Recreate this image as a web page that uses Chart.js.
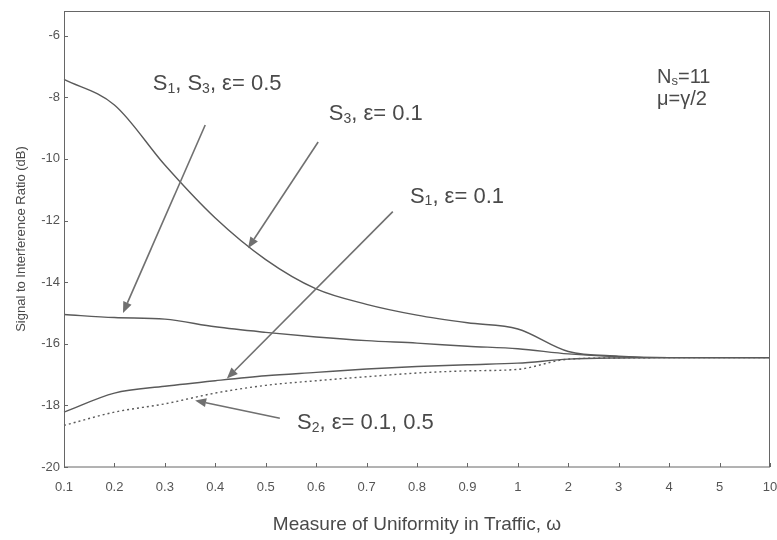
<!DOCTYPE html>
<html>
<head>
<meta charset="utf-8">
<script src="https://cdn.jsdelivr.net/npm/chart.js@4.4.1/dist/chart.umd.min.js"></script>
<style>
  html, body { margin: 0; padding: 0; background: #fff; }
</style>
</head>
<body>
<canvas id="sirChart" width="777" height="540"></canvas>
<script>
// omega categories (x axis is evenly spaced, not to scale)
const omega = ['0.1', '0.2', '0.3', '0.4', '0.5', '0.6', '0.7', '0.8', '0.9', '1', '2', '3', '4', '5', '10'];
const yTicks = [-20, -18, -16, -14, -12, -10, -8, -6];

// SIR (dB)
const s3Eps01   = [-7.42, -8.25, -10.2, -11.92, -13.27, -14.22, -14.72, -15.07, -15.32, -15.52, -16.25, -16.4, -16.45, -16.45, -16.45];
const s1s3Eps05 = [-15.05, -15.15, -15.2, -15.45, -15.63, -15.78, -15.9, -15.98, -16.08, -16.16, -16.33, -16.42, -16.45, -16.45, -16.45];
const s1Eps01   = [-18.22, -17.6, -17.38, -17.2, -17.04, -16.93, -16.82, -16.74, -16.68, -16.63, -16.5, -16.46, -16.45, -16.45, -16.45];
const s2Eps     = [-18.65, -18.22, -17.95, -17.6, -17.35, -17.2, -17.07, -16.95, -16.88, -16.83, -16.5, -16.46, -16.45, -16.45, -16.45];

// annotation arrows, in axis units: [fromX, fromY, toX, toY] (x = category index)
const arrows = [
  [2.80, -8.9, 1.17, -15.0],
  [5.04, -9.45, 3.65, -12.9],
  [6.52, -11.71, 3.23, -17.13],
  [4.28, -18.42, 2.60, -17.84]
];

const FONT = "'Liberation Sans', Arial, sans-serif";
const INK = '#4a4a4a';
const LINE = '#5a5a5a';

// text pieces: [text, isSubscript]
const notes = [
  { x: 1.76, y: -7.58, size: 22, parts: [['S', 0], ['1', 1], [', S', 0], ['3', 1], [', \u03b5= 0.5', 0]] },
  { x: 5.25, y: -8.55, size: 22, parts: [['S', 0], ['3', 1], [', \u03b5= 0.1', 0]] },
  { x: 6.86, y: -11.23, size: 22, parts: [['S', 0], ['1', 1], [', \u03b5= 0.1', 0]] },
  { x: 4.62, y: -18.58, size: 22, parts: [['S', 0], ['2', 1], [', \u03b5= 0.1, 0.5', 0]] },
  { x: 11.76, y: -7.35, size: 20, parts: [['N', 0], ['s', 1], ['=11', 0]] },
  { x: 11.76, y: -8.06, size: 20, parts: [['\u03bc=\u03b3/2', 0]] }
];

function drawParts(ctx, px, py, size, parts) {
  let cx = px;
  parts.forEach(([t, sub]) => {
    const fs = sub ? Math.round(size * 0.65) : size;
    ctx.font = fs + 'px ' + FONT;
    ctx.fillText(t, cx, sub ? py + size * 0.22 : py);
    cx += ctx.measureText(t).width;
  });
}

const overlay = {
  id: 'overlay',
  afterDatasetsDraw(chart) {
    const { ctx, chartArea: a, scales: { x, y } } = chart;
    ctx.save();
    ctx.strokeStyle = '#666';
    ctx.lineWidth = 1;
    ctx.strokeRect(a.left + 0.5, a.top + 0.5, a.right - a.left - 1, a.bottom - a.top - 0.5);

    // inward tick marks
    ctx.beginPath();
    omega.forEach((_, i) => {
      const px = Math.round(x.getPixelForValue(i)) + 0.5;
      ctx.moveTo(px, a.bottom);
      ctx.lineTo(px, a.bottom - 4);
    });
    yTicks.forEach(v => {
      const py = Math.round(y.getPixelForValue(v)) + 0.5;
      ctx.moveTo(a.left, py);
      ctx.lineTo(a.left + 4, py);
    });
    ctx.stroke();

    // arrows
    ctx.strokeStyle = '#707070';
    ctx.fillStyle = '#707070';
    ctx.lineWidth = 1.6;
    arrows.forEach(([x0, y0, x1, y1]) => {
      const ax = x.getPixelForValue(x0), ay = y.getPixelForValue(y0);
      const bx = x.getPixelForValue(x1), by = y.getPixelForValue(y1);
      const ang = Math.atan2(by - ay, bx - ax);
      const len = 11, half = 4.5;
      const baseX = bx - len * Math.cos(ang), baseY = by - len * Math.sin(ang);
      ctx.beginPath();
      ctx.moveTo(ax, ay);
      ctx.lineTo(baseX, baseY);
      ctx.stroke();
      ctx.beginPath();
      ctx.moveTo(bx, by);
      ctx.lineTo(baseX + half * Math.sin(ang), baseY - half * Math.cos(ang));
      ctx.lineTo(baseX - half * Math.sin(ang), baseY + half * Math.cos(ang));
      ctx.closePath();
      ctx.fill();
    });

    // labels
    ctx.fillStyle = INK;
    ctx.textBaseline = 'middle';
    ctx.textAlign = 'left';
    notes.forEach(n => drawParts(ctx, x.getPixelForValue(n.x), y.getPixelForValue(n.y), n.size, n.parts));
    ctx.restore();
  }
};

function series(data, dashed) {
  return {
    data: data,
    borderColor: LINE,
    borderWidth: 1.4,
    borderDash: dashed ? [2, 3] : [],
    pointRadius: 0,
    cubicInterpolationMode: 'monotone',
    fill: false
  };
}

new Chart(document.getElementById('sirChart'), {
  type: 'line',
  data: {
    labels: omega,
    datasets: [
      series(s3Eps01, false),
      series(s1s3Eps05, false),
      series(s1Eps01, false),
      series(s2Eps, true)
    ]
  },
  options: {
    responsive: false,
    animation: false,
    layout: { padding: { top: 11, right: 7, left: 0, bottom: 0 } },
    plugins: { legend: { display: false }, tooltip: { enabled: false } },
    scales: {
      x: {
        type: 'category',
        offset: false,
        grid: { display: false, drawTicks: false },
        border: { display: false },
        ticks: { color: '#555', font: { family: FONT, size: 13 }, padding: 13, maxRotation: 0, autoSkip: false },
        title: {
          display: true,
          text: 'Measure of Uniformity in Traffic, \u03c9',
          color: INK,
          font: { family: FONT, size: 19 },
          padding: { top: 0, bottom: 4 }
        },
        afterFit(scale) {
          scale.height = 73;
          scale.paddingLeft = 0;
          scale.paddingRight = 0;
        }
      },
      y: {
        min: -20,
        max: -5.2,
        grid: { display: false, drawTicks: false },
        border: { display: false },
        afterBuildTicks(scale) { scale.ticks = yTicks.map(v => ({ value: v })); },
        ticks: { color: '#555', font: { family: FONT, size: 13 }, padding: 4 },
        title: {
          display: true,
          text: 'Signal to Interference Ratio (dB)',
          color: INK,
          font: { family: FONT, size: 13 },
          padding: { top: 14, bottom: 0 }
        },
        afterFit(scale) {
          scale.width = 64;
          scale.paddingTop = 0;
          scale.paddingBottom = 0;
        }
      }
    }
  },
  plugins: [overlay]
});
</script>
</body>
</html>
